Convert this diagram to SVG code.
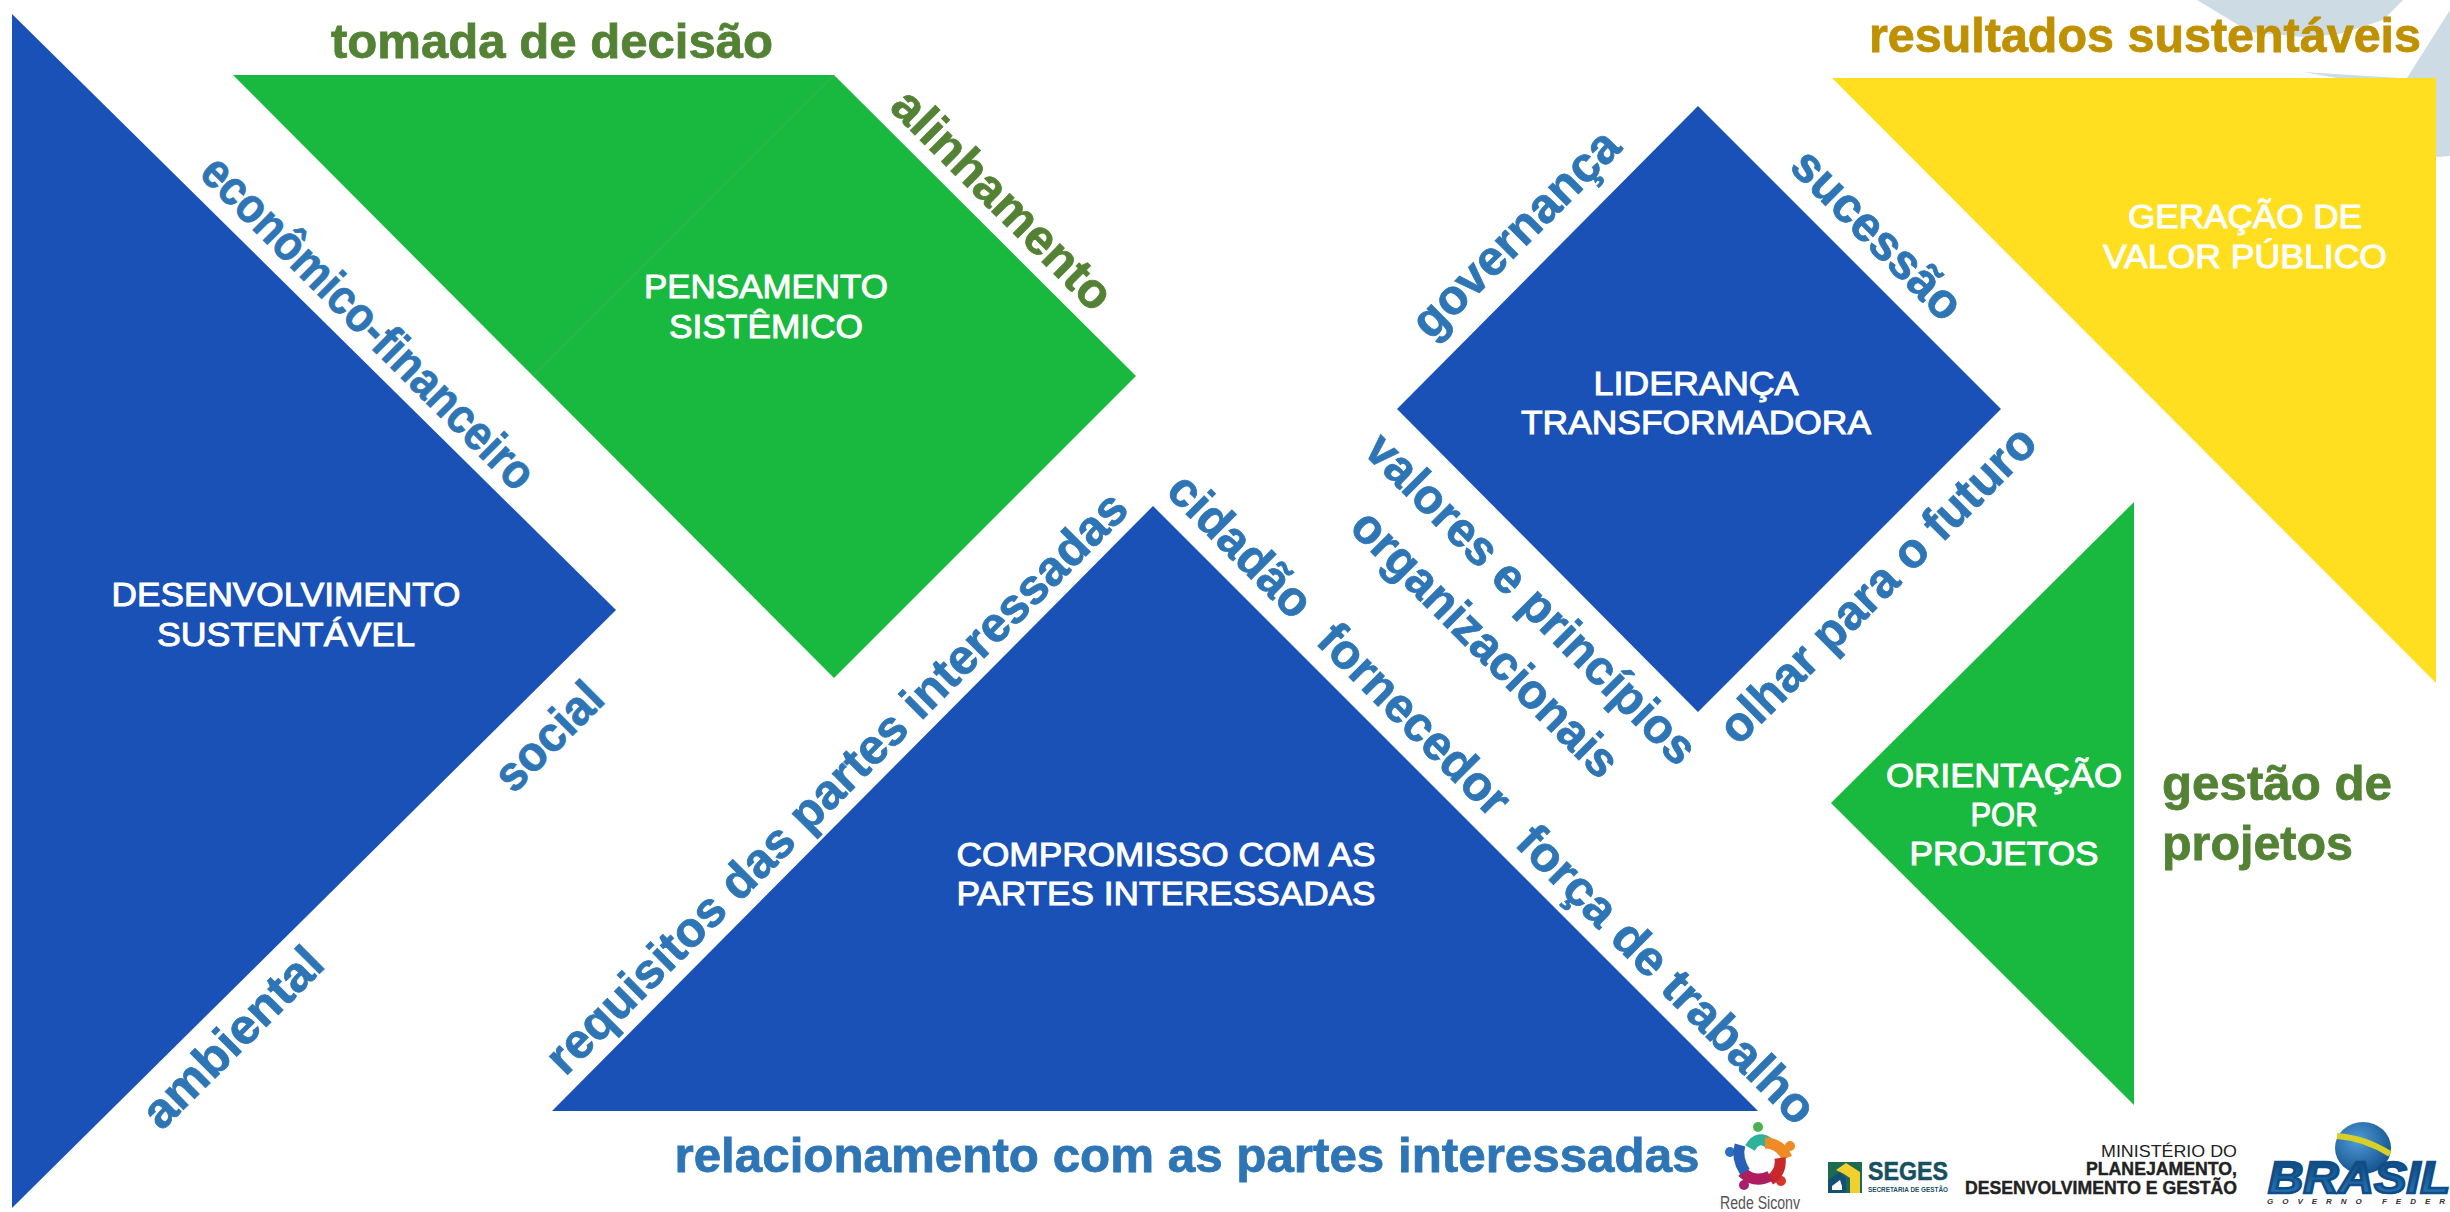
<svg xmlns="http://www.w3.org/2000/svg" width="2450" height="1212" viewBox="0 0 2450 1212">
<style>
text{font-family:"Liberation Sans",Arial,sans-serif}
.n{fill:#fff;font-size:34px;text-anchor:middle;stroke:#fff;stroke-width:1px}
.b,.g,.o{font-weight:700;font-size:49px;text-anchor:middle;stroke-width:.8px}
.b{fill:#2e75b6;stroke:#2e75b6}.g{fill:#548235;stroke:#548235}.o{fill:#bf9000;stroke:#bf9000}
.blue{fill:#1951b6}.green{fill:#19b83f}.yellow{fill:#ffdf1f}
.bg{fill:#cddbe4}
.arc{fill:none;stroke-width:11;stroke-linecap:butt}
.min{fill:#222;text-anchor:end}
</style>
<defs>
<radialGradient id="globe" cx=".4" cy=".35" r=".75"><stop offset="0" stop-color="#4f9bd6"/><stop offset="1" stop-color="#0d4a86"/></radialGradient>
<linearGradient id="bras" x1="0" y1="0" x2="0" y2="1"><stop offset="0" stop-color="#0c3f73"/><stop offset="1" stop-color="#2a7fbe"/></linearGradient>
</defs>
<rect width="2450" height="1212" fill="#fff"/>
<g id="background">
<polygon class="bg" points="2197,0 2403,0 2383,20 2340,34 2303,37 2250,32"/>
<polygon class="bg" points="2450,10 2407,78 2436,78 2436,157 2450,156"/>
<polygon class="bg" points="2303,72 2400,78 2337,78"/>
</g>
<g id="desenvolvimento">
<polygon class="blue" points="12,14 616,610 12,1208"/>
<text class="n" x="286" y="606" textLength="349" lengthAdjust="spacingAndGlyphs">DESENVOLVIMENTO</text>
<text class="n" x="286" y="646" textLength="258" lengthAdjust="spacingAndGlyphs">SUSTENTÁVEL</text>
</g>
<g id="pensamento">
<polygon class="green" points="233,75 834,75 1136,376 834,678 533,376"/>
<line x1="834" y1="75" x2="533" y2="376" stroke="#2fb653" stroke-width="1.5"/>
<text class="n" x="766" y="298" textLength="244" lengthAdjust="spacingAndGlyphs">PENSAMENTO</text>
<text class="n" x="766" y="338" textLength="194" lengthAdjust="spacingAndGlyphs">SISTÊMICO</text>
</g>
<g id="lideranca">
<polygon class="blue" points="1698,106 2001,409 1698,712 1397,409"/>
<text class="n" x="1696" y="395" textLength="205" lengthAdjust="spacingAndGlyphs">LIDERANÇA</text>
<text class="n" x="1696" y="434" textLength="350" lengthAdjust="spacingAndGlyphs">TRANSFORMADORA</text>
</g>
<g id="geracao">
<polygon class="yellow" points="1832,78 2436,78 2436,683"/>
<text class="n" x="2245" y="228" textLength="234" lengthAdjust="spacingAndGlyphs">GERAÇÃO DE</text>
<text class="n" x="2245" y="268" textLength="284" lengthAdjust="spacingAndGlyphs">VALOR PÚBLICO</text>
</g>
<g id="orientacao">
<polygon class="green" points="2134,502 2134,1105 1831,803"/>
<text class="n" x="2004" y="787" textLength="236" lengthAdjust="spacingAndGlyphs">ORIENTAÇÃO</text>
<text class="n" x="2004" y="826" textLength="67" lengthAdjust="spacingAndGlyphs">POR</text>
<text class="n" x="2004" y="865" textLength="189" lengthAdjust="spacingAndGlyphs">PROJETOS</text>
</g>
<g id="compromisso">
<polygon class="blue" points="1153,506 1758,1111 552,1111"/>
<text class="n" x="1166" y="866" textLength="419" lengthAdjust="spacingAndGlyphs">COMPROMISSO COM AS</text>
<text class="n" x="1166" y="905" textLength="419" lengthAdjust="spacingAndGlyphs">PARTES INTERESSADAS</text>
</g>
<g id="labels">
<text class="g" x="552" y="58" textLength="442" lengthAdjust="spacingAndGlyphs">tomada de decisão</text>
<text class="o" x="2145" y="52" textLength="552" lengthAdjust="spacingAndGlyphs">resultados sustentáveis</text>
<text class="b" x="1187" y="1172" textLength="1025" lengthAdjust="spacingAndGlyphs">relacionamento com as partes interessadas</text>
<text class="g" x="2162" y="800" style="text-anchor:start" textLength="230" lengthAdjust="spacingAndGlyphs">gestão de</text>
<text class="g" x="2162" y="860" style="text-anchor:start" textLength="191" lengthAdjust="spacingAndGlyphs">projetos</text>
<text class="b" dy=".35em" transform="translate(369 322) rotate(45)" textLength="450" lengthAdjust="spacingAndGlyphs">econômico-financeiro</text>
<text class="g" dy=".35em" transform="translate(1003 199) rotate(45)" textLength="290" lengthAdjust="spacingAndGlyphs">alinhamento</text>
<text class="b" dy=".35em" transform="translate(548 736) rotate(-45)" textLength="132" lengthAdjust="spacingAndGlyphs">social</text>
<text class="b" dy=".35em" transform="translate(232 1037) rotate(-45)" textLength="234" lengthAdjust="spacingAndGlyphs">ambiental</text>
<text class="b" dy=".35em" transform="translate(836 782) rotate(-45)" textLength="800" lengthAdjust="spacingAndGlyphs">requisitos das partes interessadas</text>
<text class="b" dy=".35em" transform="translate(1241 545) rotate(45)" textLength="182" lengthAdjust="spacingAndGlyphs">cidadão</text>
<text class="b" dy=".35em" transform="translate(1415 719) rotate(45)" textLength="250" lengthAdjust="spacingAndGlyphs">fornecedor</text>
<text class="b" dy=".35em" transform="translate(1667 974) rotate(45)" textLength="400" lengthAdjust="spacingAndGlyphs">força de trabalho</text>
<text class="b" dy=".35em" transform="translate(1515 233) rotate(-45)" textLength="272" lengthAdjust="spacingAndGlyphs">governança</text>
<text class="b" dy=".35em" transform="translate(1878 234) rotate(45)" textLength="220" lengthAdjust="spacingAndGlyphs">sucessão</text>
<text class="b" dy=".35em" transform="translate(1532 598) rotate(45)" textLength="446" lengthAdjust="spacingAndGlyphs">valores e princípios</text>
<text class="b" dy=".35em" transform="translate(1486 643) rotate(45)" textLength="356" lengthAdjust="spacingAndGlyphs">organizacionais</text>
<text class="b" dy=".35em" transform="translate(1877 584) rotate(-45)" textLength="426" lengthAdjust="spacingAndGlyphs">olhar para o futuro</text>
</g>
<g id="logo-rede-siconv">
<circle cx="1758" cy="1127" r="5" fill="#4caf50"/><circle cx="1790" cy="1146" r="5" fill="#f08a24"/><circle cx="1781" cy="1181" r="5" fill="#d8352a"/><circle cx="1744" cy="1185" r="5" fill="#a81f6b"/><circle cx="1730" cy="1152" r="5" fill="#2a6fc0"/>
<path class="arc" d="M1750 1148Q1758 1134 1770 1144" stroke="#2db39a"/>
<path class="arc" d="M1765 1143Q1780 1143 1787 1158" stroke="#f08a24"/>
<path class="arc" d="M1780 1158Q1782 1172 1770 1180" stroke="#c8282a"/>
<path class="arc" d="M1770 1176Q1755 1184 1742 1172" stroke="#b01d5e"/>
<path class="arc" d="M1745 1172Q1736 1158 1740 1145" stroke="#2860b8"/>
<text x="1720" y="1209" font-size="18" fill="#555" textLength="80" lengthAdjust="spacingAndGlyphs">Rede Siconv</text>
</g>
<g id="logo-seges">
<polygon points="1828,1162 1862,1162 1862,1193 1828,1193" fill="#1a6b52"/>
<polygon points="1836,1170 1846,1163 1860,1172 1860,1193 1850,1193 1850,1178 1844,1174" fill="#f3cf2e"/>
<polygon points="1828,1180 1840,1172 1846,1178 1846,1193 1828,1193" fill="#144f74"/>
<polygon points="1832,1186 1840,1180 1842,1186 1842,1190 1832,1190" fill="#fff"/>
<text x="1868" y="1180" font-size="25" font-weight="700" fill="#17505f" stroke="#17505f" stroke-width=".5" textLength="80" lengthAdjust="spacingAndGlyphs">SEGES</text>
<text x="1868" y="1192" font-size="8" font-weight="700" fill="#17505f" textLength="80" lengthAdjust="spacingAndGlyphs">SECRETARIA DE GESTÃO</text>
</g>
<g id="logo-ministerio">
<text class="min" x="2237" y="1157" font-size="17" textLength="136" lengthAdjust="spacingAndGlyphs">MINISTÉRIO DO</text>
<text class="min" x="2237" y="1175" font-size="18" font-weight="700" stroke="#222" stroke-width=".4" textLength="151" lengthAdjust="spacingAndGlyphs">PLANEJAMENTO,</text>
<text class="min" x="2237" y="1194" font-size="18" font-weight="700" stroke="#222" stroke-width=".4" textLength="272" lengthAdjust="spacingAndGlyphs">DESENVOLVIMENTO E GESTÃO</text>
</g>
<g id="logo-brasil">
<ellipse cx="2363" cy="1148" rx="28" ry="26" fill="url(#globe)"/>
<path d="M2337 1136Q2365 1138 2390 1154" fill="none" stroke="#d8d028" stroke-width="6"/>
<text x="2268" y="1193" font-size="45" font-weight="700" font-style="italic" fill="url(#bras)" stroke="#0f4d88" stroke-width="2.5" textLength="182" lengthAdjust="spacingAndGlyphs">BRASIL</text>
<text x="2267" y="1204" font-size="8" font-style="italic" font-weight="700" fill="#333" textLength="178" lengthAdjust="spacing">GOVERNO FEDER</text>
</g>
</svg>
